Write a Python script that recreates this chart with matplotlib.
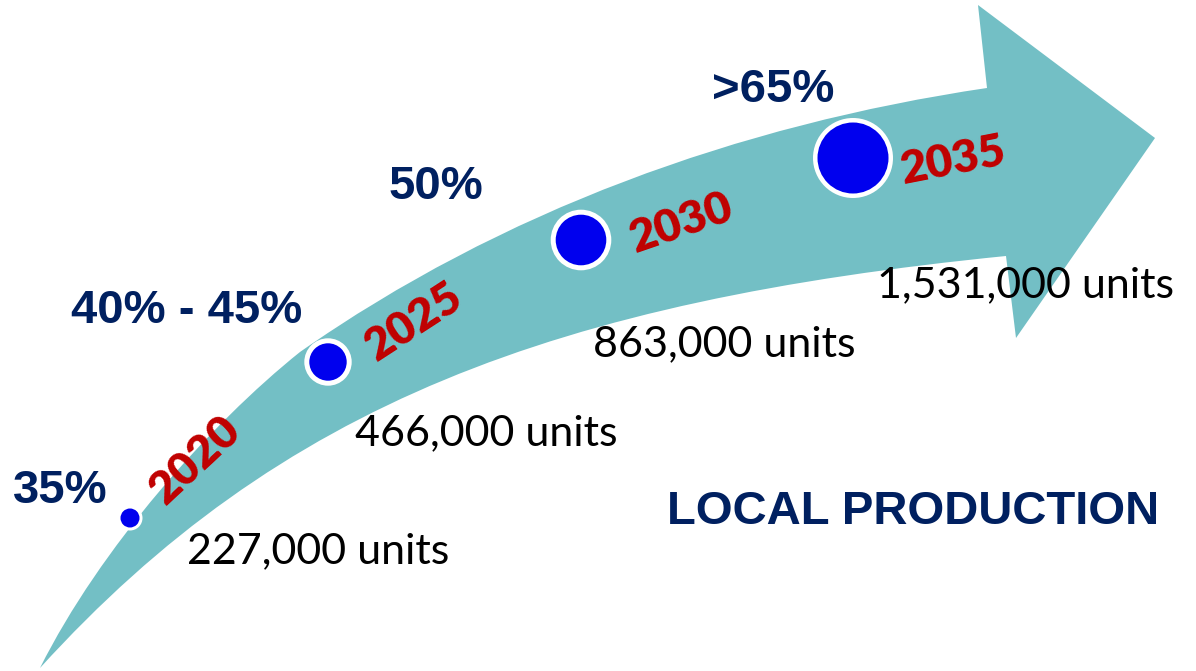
import matplotlib
matplotlib.use('Agg')
import matplotlib.pyplot as plt
from matplotlib.path import Path
from matplotlib.patches import PathPatch, Circle

# local production targets
years = [2020, 2025, 2030, 2035]
shares = ['35%', '40% - 45%', '50%', '>65%']
units = [227000, 466000, 863000, 1531000]

# layout in pixel space (y grows downwards)
dot_xy = [(130, 518), (328, 362), (581, 240), (853, 158)]
dot_r = [9.5, 18.7, 25.3, 35.5]
ring_w = [3, 5, 5, 4.5]
year_xy = [(195, 460), (414, 322), (681, 223), (953, 161)]
year_rot = [43, 33, 19, 11]
share_xy = [(60, 491), (187, 311), (436, 187), (773, 90)]
unit_xy = [(187, 563), (355, 445), (593, 356), (877, 297)]

TEAL = '#73BFC5'
BLUE = '#0000EE'
RED = '#C00000'
NAVY = '#002060'

W, H = 1196, 671
fig = plt.figure(figsize=(W / 100, H / 100), dpi=100)
ax = fig.add_axes([0, 0, 1, 1])
ax.set_xlim(0, W)
ax.set_ylim(H, 0)
ax.axis('off')

# curved arrow: upper edge in two bezier pieces, head, lower edge back to the tail
verts = [
    (40, 668),
    (100, 548), (210, 424), (300, 352),
    (500, 212), (737, 125), (987, 88),
    (978, 5), (1155, 138), (1016, 338), (1006, 256),
    (556, 301), (280, 404), (40, 668),
    (40, 668),
]
codes = [
    Path.MOVETO,
    Path.CURVE4, Path.CURVE4, Path.CURVE4,
    Path.CURVE4, Path.CURVE4, Path.CURVE4,
    Path.LINETO, Path.LINETO, Path.LINETO, Path.LINETO,
    Path.CURVE4, Path.CURVE4, Path.CURVE4,
    Path.CLOSEPOLY,
]
ax.add_patch(PathPatch(Path(verts, codes), facecolor=TEAL, edgecolor='none'))

for i in range(len(years)):
    x, y = dot_xy[i]
    ax.add_patch(Circle((x, y), dot_r[i] + ring_w[i], facecolor='white', edgecolor='none', zorder=3))
    ax.add_patch(Circle((x, y), dot_r[i], facecolor=BLUE, edgecolor='none', zorder=4))

    ax.text(year_xy[i][0], year_xy[i][1], str(years[i]), color=RED, fontsize=33,
            fontweight='heavy', family='Lato', rotation=year_rot[i],
            rotation_mode='anchor', ha='center', va='center', zorder=5)

    ax.text(share_xy[i][0], share_xy[i][1], shares[i], color=NAVY, fontsize=34,
            fontweight='bold', family='Liberation Sans', ha='center', va='center', zorder=5)

    ax.text(unit_xy[i][0], unit_xy[i][1], f'{units[i]:,} units', color='black',
            fontsize=31, family='Lato', ha='left', va='baseline', zorder=5)

ax.text(913, 512, 'LOCAL PRODUCTION', color=NAVY, fontsize=34, fontweight='bold',
        family='Liberation Sans', ha='center', va='center')

fig.savefig('out.png', dpi=100, facecolor='white')
